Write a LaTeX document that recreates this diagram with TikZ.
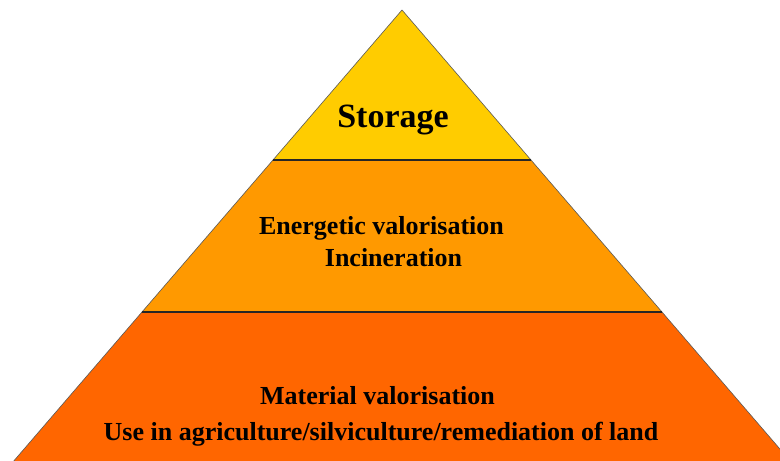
\documentclass[tikz,border=0pt]{standalone}
\usepackage{fontspec}
\setmainfont{Liberation Serif}
\definecolor{tiertop}{HTML}{FFCC00}
\definecolor{tiermid}{HTML}{FF9900}
\definecolor{tierlow}{HTML}{FF6600}

\begin{document}
\begin{tikzpicture}
  [x=1pt,y=-1pt,
   tier/.style={draw=black!65,line width=0.6pt,line join=round},
   cut/.style={draw=black!85,line width=1.8pt},
   lbl/.style={anchor=base,inner sep=0pt,font=\bfseries\fontsize{26}{30}\selectfont}]
  \useasboundingbox (0,0) rectangle (780,461);
  \clip (0,0) rectangle (780,461);

  % corners of the pyramid (base runs off the page)
  \coordinate (A)  at (402,10);
  \coordinate (L1) at (273,160);
  \coordinate (R1) at (531,160);
  \coordinate (L2) at (142,312);
  \coordinate (R2) at (662,312);
  \coordinate (L3) at (6,470);
  \coordinate (R3) at (798,470);

  \draw[tier,fill=tierlow] (L2) -- (R2) -- (R3) -- (L3) -- cycle;
  \draw[tier,fill=tiermid] (L1) -- (R1) -- (R2) -- (L2) -- cycle;
  \draw[tier,fill=tiertop] (A) -- (R1) -- (L1) -- cycle;
  \draw[cut] (L1) -- (R1);
  \draw[cut] (L2) -- (R2);

  \node[lbl,font=\bfseries\fontsize{34}{38}\selectfont] (st) at (393,127) {Storage};
  \node[lbl] (en)  at (381.5,234) {Energetic valorisation};
  \node[lbl] (inc) at (393.5,266) {Incineration};
  \node[lbl] (mat) at (377.5,404) {Material valorisation};
  \node[lbl] (use) at (381,440) {Use in agriculture/silviculture/remediation of land};
\end{tikzpicture}
\end{document}
